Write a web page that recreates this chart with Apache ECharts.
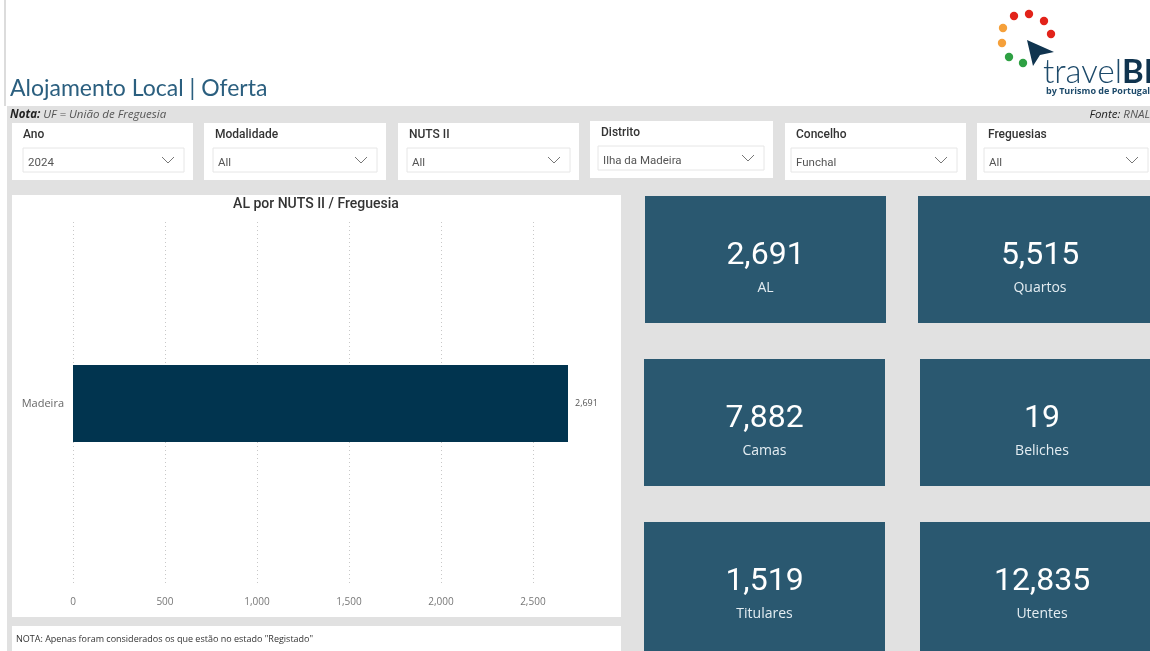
<!DOCTYPE html>
<html>
<head>
<meta charset="utf-8">
<script src="https://cdn.jsdelivr.net/npm/echarts@6/dist/echarts.min.js"></script>
<style>
html,body{margin:0;padding:0;background:#fff;}
#main{width:1150px;height:651px;}
</style>
</head>
<body>
<div id="main"></div>
<script>
// ---- data ----
const categories = ['Madeira'];
const alValues = [2691];
const cardLabels = ['AL', 'Quartos', 'Camas', 'Beliches', 'Titulares', 'Utentes'];
const cardValues = [2691, 5515, 7882, 19, 1519, 12835];
const slicerTitles = ['Ano', 'Modalidade', 'NUTS II', 'Distrito', 'Concelho', 'Freguesias'];
const slicerValues = ['2024', 'All', 'All', 'Ilha da Madeira', 'Funchal', 'All'];

const fmt = v => Number(v).toLocaleString('en-US');
const GRAY = '#e1e1e1';
const CARD = '#2a5870';
const els = [];

// backgrounds
els.push({type:'rect', shape:{x:4, y:0, width:2, height:106}, style:{fill:'#dcdcdc'}, z:-10});
els.push({type:'rect', shape:{x:7, y:106, width:1143, height:545}, style:{fill:GRAY}, z:-10});

// header
els.push({type:'text', x:10, y:89, style:{text:'Alojamento Local | Oferta', font:'23px Lato, "Open Sans", sans-serif', fill:'#2b5f7f', verticalAlign:'middle'}, z:10});
els.push({type:'text', x:10, y:115, style:{text:'{b|Nota:} UF = União de Freguesia', font:'italic 11.5px "Open Sans", sans-serif', fill:'#555', verticalAlign:'middle',
  rich:{b:{font:'italic bold 11.5px "Open Sans", sans-serif', fill:'#222'}}}, z:10});
els.push({type:'text', x:1150, y:115, style:{text:'{b|Fonte:} RNAL', font:'italic 11.5px "Open Sans", sans-serif', fill:'#555', align:'right', verticalAlign:'middle',
  rich:{b:{font:'italic 11.5px "Open Sans", sans-serif', fill:'#222'}}}, z:10});

// logo
const dots = [[1014,16,'#e2231a'],[1029,14,'#e2231a'],[1044,21,'#e2231a'],[1051,34,'#e2231a'],
              [1003,28,'#f5a03a'],[1002,43,'#f5a03a'],[1009,57,'#2ea043'],[1023,63,'#2ea043']];
dots.forEach(d => els.push({type:'circle', shape:{cx:d[0], cy:d[1], r:4.2}, style:{fill:d[2]}, z:10}));
els.push({type:'polygon', shape:{points:[[1027,40],[1054,52],[1040,55],[1033,66]]}, style:{fill:'#10344f'}, z:10});
els.push({type:'text', x:1043, y:72, style:{text:'travel{b|BI}', font:'300 33px Lato, sans-serif', fill:'#1d4a6a', verticalAlign:'middle',
  rich:{b:{font:'bold 33px Lato, sans-serif', fill:'#10344f'}}}, z:10});
els.push({type:'text', x:1046, y:91, style:{text:'by Turismo de Portugal', font:'bold 9px "Open Sans", sans-serif', fill:'#1d4a6a', verticalAlign:'middle'}, z:10});

// slicers
const slicerBoxes = [[12,123,181,57,23],[204,123,182,57,213],[398,123,181,57,407],[590,121,183,57,598],[785,123,181,57,791],[977,123,173,57,984]];
slicerBoxes.forEach((b, i) => {
  const [x, y, w, h, dx] = b;
  const ddw = (i === 5) ? 1148 - dx : (x + w - 9) - dx;
  els.push({type:'rect', shape:{x, y, width:w, height:h}, style:{fill:'#fff'}, z:-5});
  els.push({type:'text', x:x + 11, y:y + 12, style:{text:slicerTitles[i], font:'500 12px Roboto, sans-serif', fill:'#333', verticalAlign:'middle'}, z:10});
  els.push({type:'rect', shape:{x:dx, y:y + 25, width:ddw, height:24}, style:{fill:'#fff', stroke:'#e6e6e6', lineWidth:1}, z:-4});
  els.push({type:'text', x:dx + 5, y:y + 40, style:{text:slicerValues[i], font:'11.5px Roboto, sans-serif', fill:'#555', verticalAlign:'middle'}, z:10});
  const cx = dx + ddw - 16, cy = y + 37;
  els.push({type:'polyline', shape:{points:[[cx - 6, cy - 3], [cx, cy + 3], [cx + 6, cy - 3]]}, style:{stroke:'#777', lineWidth:1, fill:null}, z:10});
});

// chart panel
els.push({type:'rect', shape:{x:12, y:195, width:609, height:422}, style:{fill:'#fff'}, z:-5});
els.push({type:'text', x:316, y:204, style:{text:'AL por NUTS II / Freguesia', font:'500 14px Roboto, sans-serif', fill:'#333', align:'center', verticalAlign:'middle'}, z:10});
els.push({type:'rect', shape:{x:12, y:626, width:609, height:25}, style:{fill:'#fff'}, z:-5});
els.push({type:'text', x:16, y:639, style:{text:'NOTA: Apenas foram considerados os que estão no estado "Registado"', font:'9px "Open Sans", sans-serif', fill:'#333', verticalAlign:'middle'}, z:10});

// cards
const cardBoxes = [[645,196,241,127],[918,196,232,127],[644,359,241,127],[920,359,230,127],[644,522,241,129],[920,522,230,129]];
cardBoxes.forEach((b, i) => {
  const [x, y, w, h] = b;
  const cx = (i % 2 === 1) ? x + 122 : x + w / 2;
  els.push({type:'rect', shape:{x, y, width:w, height:h}, style:{fill:CARD}, z:-5});
  els.push({type:'text', x:cx, y:y + 60, style:{text:fmt(cardValues[i]), font:'32px Roboto, sans-serif', fill:'#fff', align:'center', verticalAlign:'middle'}, z:10});
  els.push({type:'text', x:cx, y:y + 92, style:{text:cardLabels[i], font:'14px "Open Sans", sans-serif', fill:'#e4edf2', align:'center', verticalAlign:'middle'}, z:10});
});

const chart = echarts.init(document.getElementById('main'), null, {renderer:'canvas'});
chart.setOption({
  animation:false,
  backgroundColor:'#fff',
  graphic:{elements:els},
  grid:{left:73, right:582, top:222, bottom:66, containLabel:false},
  xAxis:{
    type:'value', min:0, max:v => v.max, interval:500,
    axisLine:{show:false}, axisTick:{show:false},
    axisLabel:{color:'#777', fontSize:10, fontFamily:'"Open Sans", sans-serif', margin:12, formatter:fmt, showMaxLabel:false},
    splitLine:{show:true, showMaxLine:false, lineStyle:{type:[1,3], color:'#c8c8c8', width:1}}
  },
  yAxis:{
    type:'category', data:categories,
    axisLine:{show:false}, axisTick:{show:false},
    axisLabel:{color:'#666', fontSize:11, fontFamily:'"Open Sans", sans-serif', margin:9, padding:[5,0,0,0]}
  },
  series:[{
    type:'bar', data:alValues, barWidth:77,
    itemStyle:{color:'#01344f'},
    label:{show:true, position:'right', distance:7, fontSize:9, color:'#555', fontFamily:'"Open Sans", sans-serif', padding:[4,0,0,0], formatter:p => fmt(p.value)}
  }]
});
</script>
</body>
</html>
